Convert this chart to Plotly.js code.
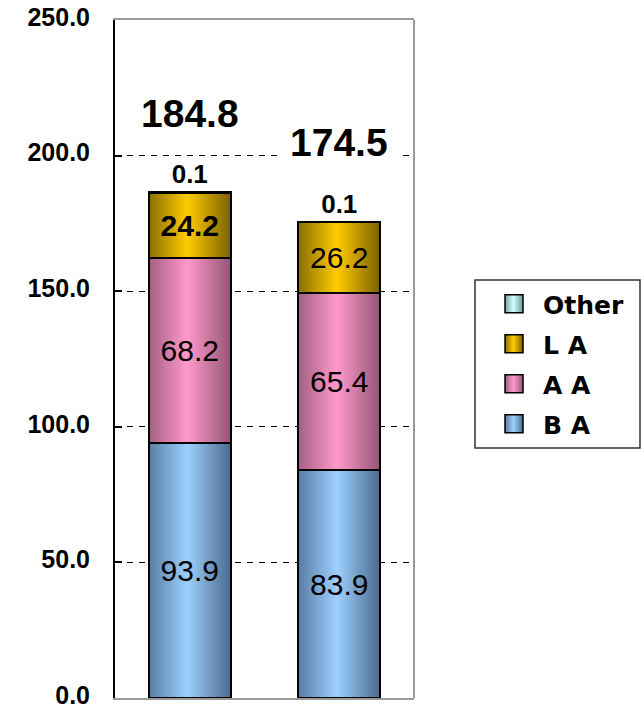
<!DOCTYPE html>
<html>
<head>
<meta charset="utf-8">
<script src="https://cdn.plot.ly/plotly-3.0.1.min.js"></script>
<style>html,body{margin:0;padding:0;background:#fff;}#chart{width:644px;height:710px;}</style>
</head>
<body>
<div id="chart"></div>
<script>
// ---- data ----
const categories = ['Bar 1', 'Bar 2'];
const seriesNames = ['B A', 'A A', 'L A', 'Other'];
const baValues = [93.9, 83.9];
const aaValues = [68.2, 65.4];
const laValues = [24.2, 26.2];
const otherValues = [0.1, 0.1];
const totalLabels = [184.8, 174.5];
const yTickValues = [0, 50, 100, 150, 200, 250];
const yTickLabels = ['0.0', '50.0', '100.0', '150.0', '200.0', '250.0'];

// ---- styles ----
const FONT = 'Liberation Sans, Arial, sans-serif';
const LEGEND_FONT = 'DejaVu Sans, Verdana, sans-serif';
const baseColors = ['#99ccff', '#ff99cc', '#ffcc00', '#ccffff'];
const gradients = [
  ['gBA', '#587ca6', '#9dd0ff', '#4b6a8c'],
  ['gAA', '#a35f82', '#ff99cc', '#945575'],
  ['gLA', '#8a6d00', '#ffcc00', '#7a6000'],
  ['gOT', '#7fa3a3', '#ccffff', '#739494']
];
const legendRanks = [4, 3, 2, 1];
const valueSets = [baValues, aaValues, laValues, otherValues];

const traces = seriesNames.map((name, i) => {
  const isOther = i === 3;
  return {
    type: 'bar',
    name: name,
    x: categories,
    y: valueSets[i],
    legendgroup: 'g' + i,
    legendrank: legendRanks[i],
    marker: {color: baseColors[i], line: {color: '#000', width: 2}},
    texttemplate: (i === 2) ? ['<b>%{y:.1f}</b>', '%{y:.1f}'] : '%{y:.1f}',
    textposition: isOther ? 'outside' : 'inside',
    insidetextanchor: 'middle',
    textangle: 0,
    cliponaxis: false,
    textfont: isOther ? {family: FONT, size: 26, color: '#000', weight: 'bold'}
                      : {family: FONT, size: 30, color: '#000'},
    hoverinfo: 'none'
  };
});

const stackTops = categories.map((c, k) => valueSets.reduce((s, arr) => s + arr[k], 0));

const annotations = categories.map((c, k) => ({
  x: c, y: stackTops[k], xref: 'x', yref: 'y',
  text: totalLabels[k].toFixed(1),
  showarrow: false, yanchor: 'middle', yshift: 79,
  font: {family: FONT, size: 39, color: '#000', weight: 'bold'},
  bgcolor: '#ffffff', borderpad: 12
}));

const L = 115, R = 414, T = 20, B = 698;
const pw = R - L, ph = B - T;
const px = v => (v - L) / pw;
const py = v => (B - v) / ph;

const layout = {
  width: 644, height: 710,
  margin: {l: L, r: 644 - R, t: T, b: 710 - B, pad: 0},
  paper_bgcolor: '#fff', plot_bgcolor: '#fff',
  barmode: 'stack', bargap: 0.45,
  showlegend: true,
  legend: {
    x: px(503), y: py(364), xanchor: 'left', yanchor: 'middle',
    traceorder: 'grouped', tracegroupgap: 4.5,
    font: {family: LEGEND_FONT, size: 25, color: '#000', weight: 'bold'},
    borderwidth: 0, bgcolor: 'rgba(0,0,0,0)'
  },
  xaxis: {
    showticklabels: false, ticks: '', showgrid: false, zeroline: false,
    showline: true, mirror: true, linecolor: '#9a9a9a', linewidth: 2,
    fixedrange: true
  },
  yaxis: {
    range: [0, 250], tickvals: yTickValues, ticktext: yTickLabels,
    ticks: 'inside', ticklen: 7, tickwidth: 2, tickcolor: '#000',
    ticklabelstandoff: 18, ticklabeloverflow: 'allow', ticklabelshift: -3,
    tickfont: {family: FONT, size: 25, color: '#000', weight: 'bold'},
    showgrid: true, gridcolor: '#000', gridwidth: 1, griddash: '6px,6px',
    zeroline: false, showline: true, linecolor: '#000', linewidth: 2,
    fixedrange: true
  },
  shapes: [
    {type: 'line', xref: 'paper', yref: 'paper', x0: 1, x1: 1, y0: 0, y1: 1,
     line: {color: '#9a9a9a', width: 2}},
    {type: 'rect', xref: 'paper', yref: 'paper',
     x0: px(475), x1: px(640), y0: py(448), y1: py(280),
     line: {color: '#333', width: 1.5}}
  ],
  annotations: annotations
};

const gd = document.getElementById('chart');
Plotly.newPlot(gd, traces, layout, {staticPlot: true, displayModeBar: false}).then(() => {
  const NS = 'http://www.w3.org/2000/svg';
  const defs = gd.querySelector('.main-svg defs');
  gradients.forEach(g => {
    const lg = document.createElementNS(NS, 'linearGradient');
    lg.setAttribute('id', g[0]);
    lg.setAttribute('x1', '0'); lg.setAttribute('x2', '1');
    lg.setAttribute('y1', '0'); lg.setAttribute('y2', '0');
    [[0, g[1]], [0.47, g[2]], [1, g[3]]].forEach(s => {
      const st = document.createElementNS(NS, 'stop');
      st.setAttribute('offset', s[0]);
      st.setAttribute('stop-color', s[1]);
      lg.appendChild(st);
    });
    defs.appendChild(lg);
  });
  gd.querySelectorAll('.barlayer .trace').forEach((tr, i) => {
    const idx = tr.__data__ && tr.__data__[0] ? tr.__data__[0].trace.index : i;
    tr.querySelectorAll('.point path').forEach(p => { p.style.fill = 'url(#' + gradients[idx][0] + ')'; });
  });
  gd.querySelectorAll('.legend .traces').forEach(tr => {
    const idx = tr.__data__[0].trace.index;
    tr.querySelectorAll('.legendpoints path').forEach(p => {
      p.style.fill = 'url(#' + gradients[idx][0] + ')';
      p.setAttribute('d', 'M9,9H-9V-9H9Z');
      p.setAttribute('transform', 'translate(11,0)');
      p.style.strokeWidth = '1.5px';
    });
  });
});
</script>
</body>
</html>
